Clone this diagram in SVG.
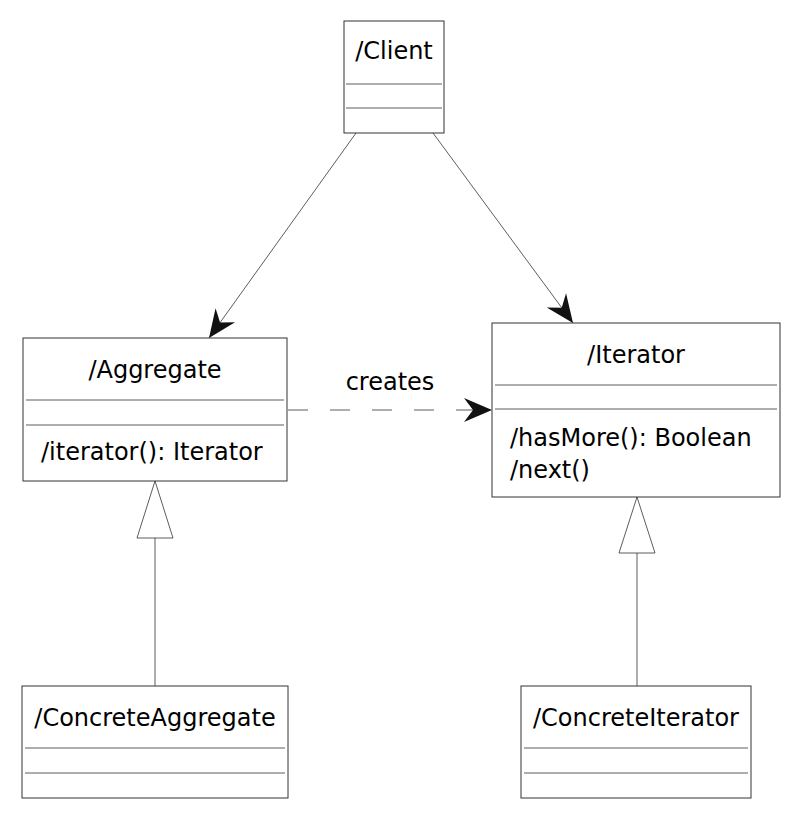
<svg xmlns="http://www.w3.org/2000/svg" width="800" height="817" viewBox="0 0 800 817">
<style>
.box{fill:#fff;stroke:#333;stroke-width:1}
.sep{stroke:#333;stroke-width:0.8}
text{font-family:"DejaVu Sans",sans-serif;font-size:24px;fill:#000}
.c{text-anchor:middle}
.ln{stroke:#333;stroke-width:0.8;fill:none}
</style>
<defs>
<marker id="arr" markerUnits="userSpaceOnUse" markerWidth="32" markerHeight="28" refX="0" refY="0" viewBox="-30 -14 32 28" orient="auto">
<path d="M0,0 L-28,-12 L-19,0 L-28,12 Z" fill="#111"/>
</marker>
</defs>
<g id="connectors">
<line class="ln" x1="356" y1="133" x2="209" y2="338" marker-end="url(#arr)"/>
<line class="ln" x1="433" y1="133" x2="573" y2="323" marker-end="url(#arr)"/>
<line class="ln" x1="288" y1="410" x2="492" y2="410" stroke-dasharray="20,22" marker-end="url(#arr)"/>
<text x="390" y="390" class="c">creates</text>
<line class="ln" x1="155" y1="538" x2="155" y2="686"/>
<polygon points="155,481 137,538 173,538" fill="#fff" stroke="#333" stroke-width="0.8"/>
<line class="ln" x1="637" y1="553" x2="637" y2="686"/>
<polygon points="637,497 619,553 655,553" fill="#fff" stroke="#333" stroke-width="0.8"/>
</g>
<g id="client">
<rect class="box" x="344" y="21" width="100" height="112"/>
<text x="394" y="59" class="c">/Client</text>
<line class="sep" x1="346" y1="84" x2="442" y2="84"/>
<line class="sep" x1="346" y1="108" x2="442" y2="108"/>
</g>
<g id="aggregate">
<rect class="box" x="23" y="338" width="264" height="143"/>
<text x="155" y="378" class="c">/Aggregate</text>
<line class="sep" x1="26" y1="400" x2="284" y2="400"/>
<line class="sep" x1="26" y1="425" x2="284" y2="425"/>
<text x="41" y="460">/iterator(): Iterator</text>
</g>
<g id="iterator">
<rect class="box" x="492" y="323" width="288" height="174"/>
<text x="636" y="363" class="c">/Iterator</text>
<line class="sep" x1="495" y1="385" x2="777" y2="385"/>
<line class="sep" x1="495" y1="409" x2="777" y2="409"/>
<text x="510" y="446">/hasMore(): Boolean</text>
<text x="510" y="478">/next()</text>
</g>
<g id="concreteAggregate">
<rect class="box" x="22" y="686" width="266" height="112"/>
<text x="155" y="726" class="c">/ConcreteAggregate</text>
<line class="sep" x1="25" y1="748" x2="285" y2="748"/>
<line class="sep" x1="25" y1="773" x2="285" y2="773"/>
</g>
<g id="concreteIterator">
<rect class="box" x="521" y="686" width="230" height="112"/>
<text x="636" y="726" class="c">/ConcreteIterator</text>
<line class="sep" x1="524" y1="748" x2="748" y2="748"/>
<line class="sep" x1="524" y1="773" x2="748" y2="773"/>
</g>
</svg>
